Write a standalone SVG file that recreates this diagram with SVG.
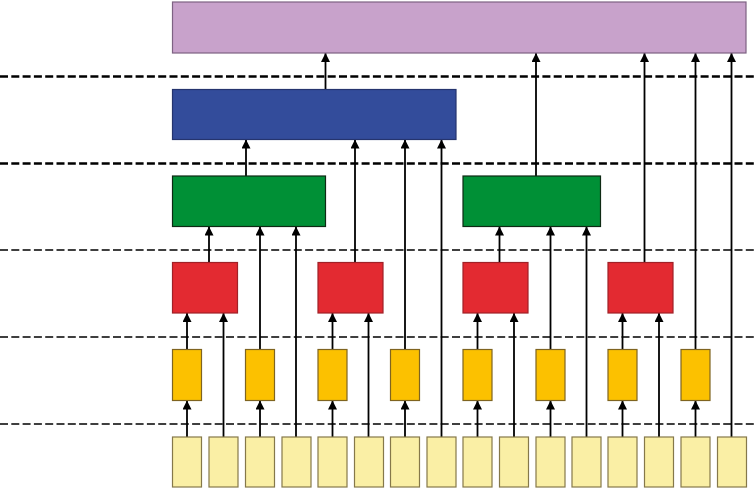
<svg xmlns="http://www.w3.org/2000/svg" width="756" height="499" viewBox="0 0 756 499">
<style>
.dash{stroke:#000;stroke-dasharray:8 3.3;fill:none}
.d1{stroke-width:2.3}
.d2{stroke-width:1.6}
.c{stroke:#000;stroke-width:1.8;fill:none;marker-end:url(#ah)}
.purple{fill:#C8A2CB;stroke:#7E6283;stroke-width:1.2}
.blue{fill:#334C9B;stroke:#25346E;stroke-width:1.2}
.green{fill:#009036;stroke:#0E2A14;stroke-width:1.2}
.red{fill:#E32A31;stroke:#A02127;stroke-width:1.2}
.orange{fill:#FCC100;stroke:#7F6420;stroke-width:1.2}
.pale{fill:#FAEFA5;stroke:#85784A;stroke-width:1.2}
</style>
<defs>
<marker id="ah" markerUnits="userSpaceOnUse" markerWidth="12" markerHeight="12" refX="9" refY="4.5" orient="auto">
<path d="M0,0 L9,4.5 L0,9 Z" fill="#000"/>
</marker>
</defs>
<g id="separators">
<line class="dash d1" x1="0" y1="76.5" x2="756" y2="76.5"/>
<line class="dash d1" x1="0" y1="163.5" x2="756" y2="163.5"/>
<line class="dash d2" x1="0" y1="250" x2="756" y2="250"/>
<line class="dash d2" x1="0" y1="337" x2="756" y2="337"/>
<line class="dash d2" x1="0" y1="424" x2="756" y2="424"/>
</g>
<g id="connectors">
<line class="c" x1="187" y1="437" x2="187" y2="400.5"/>
<line class="c" x1="260" y1="437" x2="260" y2="400.5"/>
<line class="c" x1="332.5" y1="437" x2="332.5" y2="400.5"/>
<line class="c" x1="405" y1="437" x2="405" y2="400.5"/>
<line class="c" x1="477.5" y1="437" x2="477.5" y2="400.5"/>
<line class="c" x1="550.5" y1="437" x2="550.5" y2="400.5"/>
<line class="c" x1="622.5" y1="437" x2="622.5" y2="400.5"/>
<line class="c" x1="695.5" y1="437" x2="695.5" y2="400.5"/>
<line class="c" x1="187" y1="349.5" x2="187" y2="313"/>
<line class="c" x1="223.5" y1="437" x2="223.5" y2="313"/>
<line class="c" x1="260" y1="349.5" x2="260" y2="226.5"/>
<line class="c" x1="296" y1="437" x2="296" y2="226.5"/>
<line class="c" x1="332.5" y1="349.5" x2="332.5" y2="313"/>
<line class="c" x1="368.5" y1="437" x2="368.5" y2="313"/>
<line class="c" x1="405" y1="349.5" x2="405" y2="139.5"/>
<line class="c" x1="441.5" y1="437" x2="441.5" y2="139.5"/>
<line class="c" x1="477.5" y1="349.5" x2="477.5" y2="313"/>
<line class="c" x1="514" y1="437" x2="514" y2="313"/>
<line class="c" x1="550.5" y1="349.5" x2="550.5" y2="226.5"/>
<line class="c" x1="586.5" y1="437" x2="586.5" y2="226.5"/>
<line class="c" x1="622.5" y1="349.5" x2="622.5" y2="313"/>
<line class="c" x1="659" y1="437" x2="659" y2="313"/>
<line class="c" x1="695.5" y1="349.5" x2="695.5" y2="53"/>
<line class="c" x1="731.5" y1="437" x2="731.5" y2="53"/>
<line class="c" x1="209" y1="262.5" x2="209" y2="226.5"/>
<line class="c" x1="355" y1="262.5" x2="355" y2="139.5"/>
<line class="c" x1="499.5" y1="262.5" x2="499.5" y2="226.5"/>
<line class="c" x1="644.5" y1="262.5" x2="644.5" y2="53"/>
<line class="c" x1="246" y1="176" x2="246" y2="139.5"/>
<line class="c" x1="536" y1="176" x2="536" y2="53"/>
<line class="c" x1="325.5" y1="89.5" x2="325.5" y2="53"/>
</g>
<g id="top"><rect class="purple" x="172.5" y="2" width="573.5" height="51"/></g>
<g id="blue1"><rect class="blue" x="172.5" y="89.5" width="283.5" height="50"/></g>
<g id="green1"><rect class="green" x="172.5" y="176" width="153" height="50.5"/></g>
<g id="green2"><rect class="green" x="463" y="176" width="137.5" height="50.5"/></g>
<g id="red1"><rect class="red" x="172.5" y="262.5" width="65" height="50.5"/></g>
<g id="red2"><rect class="red" x="318" y="262.5" width="65" height="50.5"/></g>
<g id="red3"><rect class="red" x="463" y="262.5" width="65" height="50.5"/></g>
<g id="red4"><rect class="red" x="608" y="262.5" width="65" height="50.5"/></g>
<g id="orange1"><rect class="orange" x="172.5" y="349.5" width="29" height="51"/></g>
<g id="orange2"><rect class="orange" x="245.5" y="349.5" width="29" height="51"/></g>
<g id="orange3"><rect class="orange" x="318" y="349.5" width="29" height="51"/></g>
<g id="orange4"><rect class="orange" x="390.5" y="349.5" width="29" height="51"/></g>
<g id="orange5"><rect class="orange" x="463" y="349.5" width="29" height="51"/></g>
<g id="orange6"><rect class="orange" x="536" y="349.5" width="29" height="51"/></g>
<g id="orange7"><rect class="orange" x="608" y="349.5" width="29" height="51"/></g>
<g id="orange8"><rect class="orange" x="681" y="349.5" width="29" height="51"/></g>
<g id="in1"><rect class="pale" x="172.5" y="437" width="29" height="50"/></g>
<g id="in2"><rect class="pale" x="209" y="437" width="29" height="50"/></g>
<g id="in3"><rect class="pale" x="245.5" y="437" width="29" height="50"/></g>
<g id="in4"><rect class="pale" x="282" y="437" width="29" height="50"/></g>
<g id="in5"><rect class="pale" x="318" y="437" width="29" height="50"/></g>
<g id="in6"><rect class="pale" x="354.5" y="437" width="29" height="50"/></g>
<g id="in7"><rect class="pale" x="390.5" y="437" width="29" height="50"/></g>
<g id="in8"><rect class="pale" x="427" y="437" width="29" height="50"/></g>
<g id="in9"><rect class="pale" x="463" y="437" width="29" height="50"/></g>
<g id="in10"><rect class="pale" x="499.5" y="437" width="29" height="50"/></g>
<g id="in11"><rect class="pale" x="536" y="437" width="29" height="50"/></g>
<g id="in12"><rect class="pale" x="572" y="437" width="29" height="50"/></g>
<g id="in13"><rect class="pale" x="608" y="437" width="29" height="50"/></g>
<g id="in14"><rect class="pale" x="644.5" y="437" width="29" height="50"/></g>
<g id="in15"><rect class="pale" x="681" y="437" width="29" height="50"/></g>
<g id="in16"><rect class="pale" x="717.5" y="437" width="29" height="50"/></g>
</svg>
